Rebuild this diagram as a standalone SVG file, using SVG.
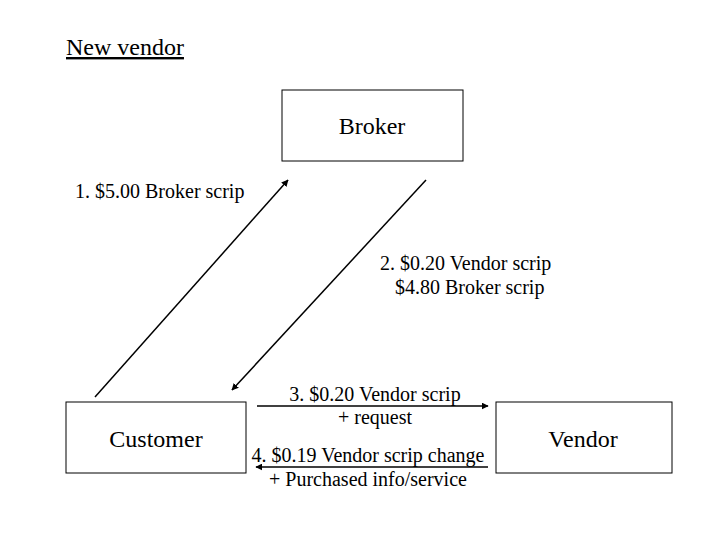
<svg xmlns="http://www.w3.org/2000/svg" width="720" height="540" viewBox="0 0 720 540">
<style>
text{font-family:"Liberation Serif","Times New Roman",serif;font-size:20px;fill:#000}
.big{font-size:24px}
.box{fill:#fff;stroke:#000;stroke-width:1}
.ln{stroke:#000;stroke-width:1.5;fill:none}
</style>
<defs>
<marker id="ah" viewBox="0 0 10 10" refX="9" refY="5" markerWidth="7" markerHeight="7" markerUnits="userSpaceOnUse" orient="auto">
<path d="M0,0 L10,5 L0,10 z" fill="#000"/>
</marker>
</defs>
<rect width="720" height="540" fill="#fff"/>
<text class="big" x="66" y="55" text-decoration="underline">New vendor</text>
<g id="broker"><rect class="box" x="282" y="90" width="181" height="71"/><text class="big" x="372" y="134" text-anchor="middle">Broker</text></g>
<g id="customer"><rect class="box" x="66" y="402" width="180" height="71"/><text class="big" x="156" y="447" text-anchor="middle">Customer</text></g>
<g id="vendor"><rect class="box" x="496" y="402" width="176" height="71"/><text class="big" x="583" y="447" text-anchor="middle">Vendor</text></g>
<g id="connectors">
<line class="ln" x1="95" y1="397" x2="288" y2="180" marker-end="url(#ah)"/>
<line class="ln" x1="426" y1="180" x2="232" y2="390" marker-end="url(#ah)"/>
<line class="ln" x1="257" y1="406" x2="488" y2="406" marker-end="url(#ah)"/>
<line class="ln" x1="488" y1="467" x2="256" y2="467" marker-end="url(#ah)"/>
</g>
<g id="labels">
<text x="75" y="198">1. $5.00 Broker scrip</text>
<text x="380" y="270">2. $0.20 Vendor scrip</text>
<text x="395" y="294">$4.80 Broker scrip</text>
<text x="375" y="401" text-anchor="middle">3. $0.20 Vendor scrip</text>
<text x="375" y="424" text-anchor="middle">+ request</text>
<text x="368" y="462" text-anchor="middle">4. $0.19 Vendor scrip change</text>
<text x="368" y="486" text-anchor="middle">+ Purchased info/service</text>
</g>
</svg>
